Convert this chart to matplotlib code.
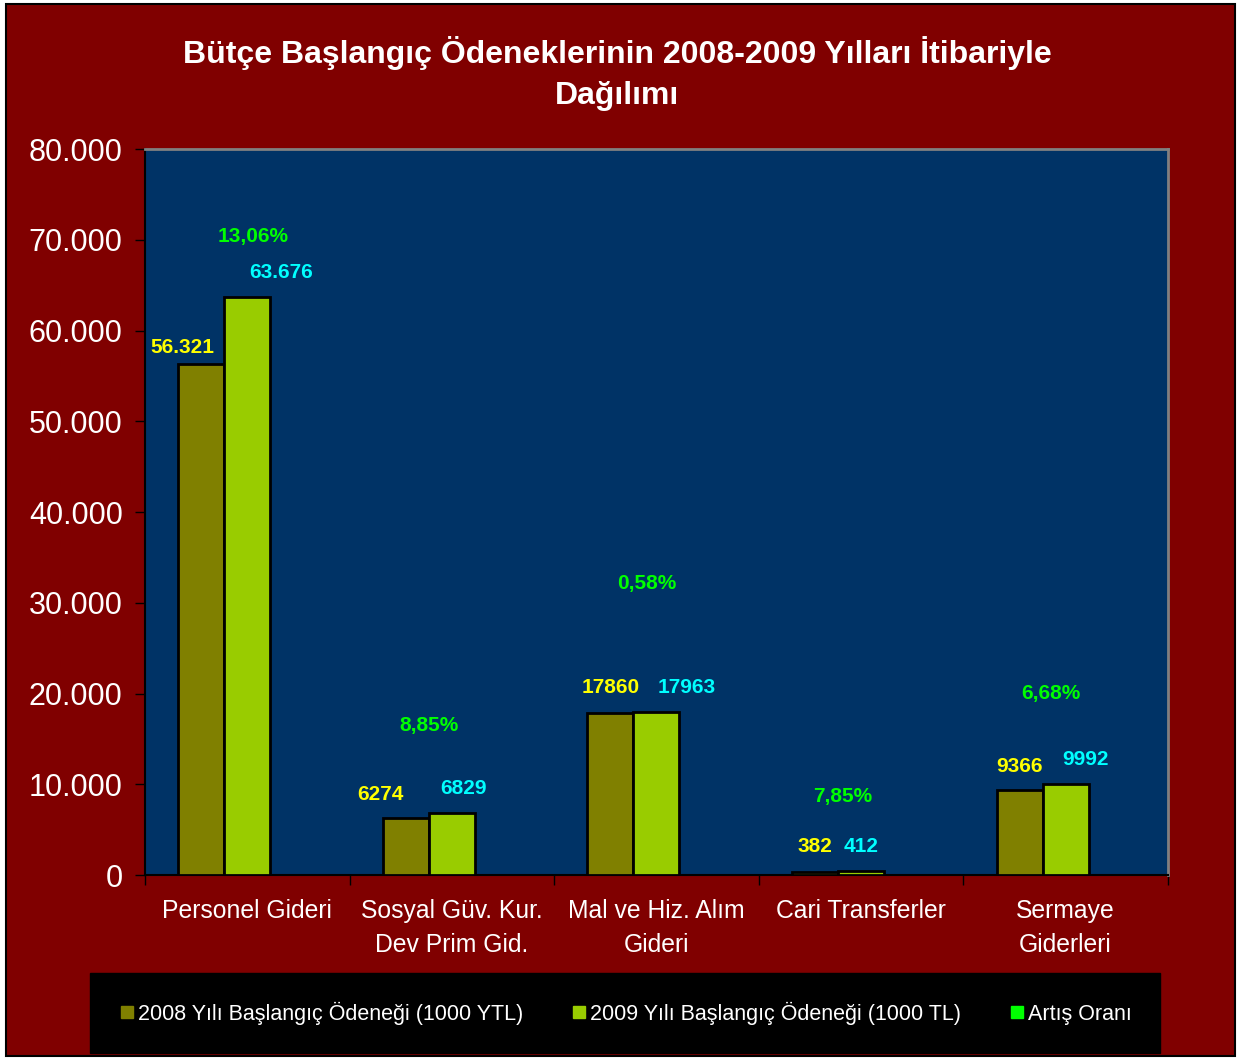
import matplotlib
matplotlib.use("Agg")
import matplotlib.pyplot as plt
from matplotlib.lines import Line2D
from matplotlib.patches import Rectangle
from matplotlib.ticker import FuncFormatter
import numpy as np

# --- data ---
categories = ['Personel Gideri', 'Sosyal Güv. Kur.\nDev Prim Gid.', 'Mal ve Hiz. Alım\nGideri',
              'Cari Transferler', 'Sermaye\nGiderleri']
values_2008 = [56321, 6274, 17860, 382, 9366]
values_2009 = [63676, 6829, 17963, 412, 9992]
rates = [13.06, 8.85, 0.58, 7.85, 6.68]
labels_2008 = ['56.321', '6274', '17860', '382', '9366']
labels_2009 = ['63.676', '6829', '17963', '412', '9992']
series_names = ['2008 Yılı Başlangıç Ödeneği (1000 YTL)', '2009 Yılı Başlangıç Ödeneği (1000 TL)', 'Artış Oranı']
# -------------------------------

plt.rcParams['font.family'] = ['Liberation Sans', 'DejaVu Sans']

c2008 = '#808000'
c2009 = '#99CC00'
crate = '#00FF00'
bg_red = '#800000'
plot_bg = '#003366'

fig = plt.figure(figsize=(12.39, 10.59), dpi=100)
fig.patch.set_facecolor('white')
fig.patches.append(Rectangle((0.005, 0.003), 0.992, 0.993, transform=fig.transFigure,
                             facecolor=bg_red, edgecolor='black', linewidth=1.5, zorder=-10))

ax = fig.add_axes([0.117, 0.1737, 0.8256, 0.6856])
ax.set_facecolor(plot_bg)

x = np.arange(len(categories))
w = 0.225
b1 = ax.bar(x - w, values_2008, w, color=c2008, edgecolor='black', linewidth=2, zorder=3)
b2 = ax.bar(x, values_2009, w, color=c2009, edgecolor='black', linewidth=2, zorder=3)
# rate series shares the value axis, so its bars are practically invisible
b3 = ax.bar(x + w, rates, w, color=crate, linewidth=0, zorder=3)

ax.set_xlim(-0.5, len(categories) - 0.5)
ax.set_ylim(0, 80000)
ax.set_yticks(np.arange(0, 80001, 10000))
ax.yaxis.set_major_formatter(FuncFormatter(lambda v, p: f'{v:,.0f}'.replace(',', '.')))
ax.tick_params(axis='y', colors='black', labelcolor='white', labelsize=22, length=7,
               width=1, direction='out', pad=9)

ax.set_xticks(np.arange(-0.5, len(categories), 1.0))
ax.set_xticklabels([])
ax.tick_params(axis='x', which='major', length=7, width=1, colors='black', direction='out')
ax.set_xticks(x, minor=True)
ax.set_xticklabels(categories, minor=True, color='white', fontsize=17.8, linespacing=1.55)
ax.tick_params(axis='x', which='minor', length=0, pad=17)

for s in ['top', 'right']:
    ax.spines[s].set_color('#808080')
    ax.spines[s].set_linewidth(2)
for s in ['left', 'bottom']:
    ax.spines[s].set_color('black')
    ax.spines[s].set_linewidth(1.5)

# value labels (per-label nudges in pixels, as in the original)
dx_2008 = [-19, -25, 0, 0, 0]
dy_2008 = [16, 24, 25, 25, 24]
dx_2009 = [34, 12, 30, 0, 20]
for i, bar in enumerate(b1):
    ax.annotate(labels_2008[i], (bar.get_x() + bar.get_width() / 2, bar.get_height()),
                xytext=(dx_2008[i], dy_2008[i]), textcoords='offset pixels', ha='center', va='center',
                color='#FFFF00', fontsize=15, fontweight='bold', zorder=5)
for i, bar in enumerate(b2):
    ax.annotate(labels_2009[i], (bar.get_x() + bar.get_width() / 2, bar.get_height()),
                xytext=(dx_2009[i], 25), textcoords='offset pixels', ha='center', va='center',
                color='#00FFFF', fontsize=15, fontweight='bold', zorder=5)

# rate labels
rate_y = [70400, 16500, 32100, 8700, 20050]
rate_dx = [0.03, -0.11, -0.045, -0.09, -0.07]
for i, r in enumerate(rates):
    ax.text(x[i] + rate_dx[i], rate_y[i], f'{r:.2f}%'.replace('.', ','), ha='center', va='center',
            color=crate, fontsize=15, fontweight='bold', zorder=5)

fig.text(0.498, 0.9305, 'Bütçe Başlangıç Ödeneklerinin 2008-2009 Yılları İtibariyle\nDağılımı',
         ha='center', va='center', color='white', fontsize=23, fontweight='bold', linespacing=1.5)

handles = [Line2D([], [], marker='s', linestyle='none', markersize=8, color=c, markeredgecolor=c)
           for c in (c2008, c2009, crate)]
leg = fig.legend(handles, series_names, loc='lower left', ncol=3, mode='expand',
                 bbox_to_anchor=(0.0726, 0.0057, 0.8636, 0.0755), frameon=True,
                 fancybox=False, facecolor='black', edgecolor='black', framealpha=1,
                 fontsize=15.5, handletextpad=0.1, handlelength=0.8, borderaxespad=0,
                 borderpad=1.32)
for t in leg.get_texts():
    t.set_color('white')

fig.savefig('out.png', dpi=100, facecolor=fig.get_facecolor())
